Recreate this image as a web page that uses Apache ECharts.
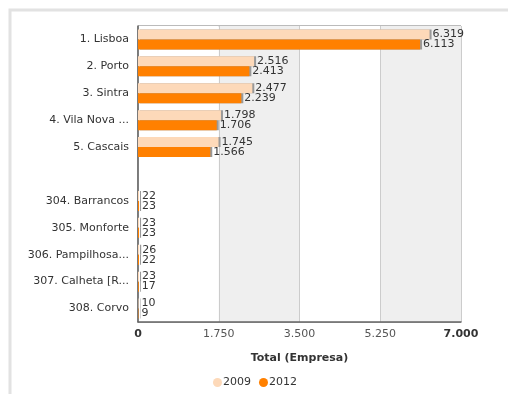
<!DOCTYPE html>
<html>
<head>
<meta charset="utf-8">
<script src="https://cdn.jsdelivr.net/npm/echarts@6/dist/echarts.min.js"></script>
<style>
  html, body { margin: 0; padding: 0; background: #fff; }
  #main { width: 508px; height: 394px; }
</style>
</head>
<body>
<div id="main"></div>
<script>
// municipios (top 5 + bottom 5), empty row between them
var categories = ['1. Lisboa', '2. Porto', '3. Sintra', '4. Vila Nova ...', '5. Cascais', '',
  '304. Barrancos', '305. Monforte', '306. Pampilhosa...', '307. Calheta [R...', '308. Corvo'];
var values2009 = [6319, 2516, 2477, 1798, 1745, '-', 22, 23, 26, 23, 10];
var values2012 = [6113, 2413, 2239, 1706, 1566, '-', 23, 23, 22, 17, 9];
var xTicks = { min: 0, max: 7000, interval: 1750 };

function fmt(v) {
  return String(v).replace(/\B(?=(\d{3})+(?!\d))/g, '.');
}

var font = 'Verdana, "DejaVu Sans", sans-serif';
var myChart = echarts.init(document.getElementById('main'));

function barSeries(name, data, color) {
  return {
    name: name,
    type: 'bar',
    data: data,
    barWidth: 10,
    barGap: '0%',
    itemStyle: {
      color: color,
      shadowColor: '#999',
      shadowOffsetX: 2,
      shadowBlur: 0
    },
    label: {
      show: true,
      position: 'right',
      distance: 3,
      color: '#333',
      fontSize: 11,
      fontFamily: font,
      formatter: function (p) { return fmt(p.value); }
    },
    emphasis: { disabled: true }
  };
}

var option = {
  animation: false,
  textStyle: { fontFamily: font },
  graphic: [{
    type: 'rect',
    shape: { x: 10, y: 10, width: 700, height: 500 },
    style: { fill: 'none', stroke: '#e2e2e2', lineWidth: 3 },
    silent: true
  }],
  grid: {
    left: 138, top: 26, right: 47, bottom: 72,
    show: true, borderColor: '#777', borderWidth: 1
  },
  legend: {
    left: 208, top: 372,
    icon: 'circle', itemWidth: 9, itemHeight: 9, itemGap: 8,
    textStyle: { fontSize: 11, color: '#333', fontFamily: font, padding: [0, 0, 0, -4] },
    data: ['2009', '2012']
  },
  xAxis: {
    type: 'value',
    min: xTicks.min, max: xTicks.max, interval: xTicks.interval,
    name: 'Total (Empresa)',
    nameLocation: 'middle',
    nameGap: 31,
    nameTextStyle: { fontSize: 11, fontWeight: 'bold', color: '#333', fontFamily: font },
    axisLine: { show: true, lineStyle: { color: '#666', width: 1.5 } },
    axisTick: { show: false },
    axisLabel: {
      fontSize: 11, color: '#555', margin: 7, fontFamily: font,
      formatter: function (v) {
        if (v === xTicks.min || v === xTicks.max) return '{b|' + fmt(v) + '}';
        return fmt(v);
      },
      rich: { b: { fontWeight: 'bold', color: '#333', fontSize: 11, fontFamily: font } }
    },
    splitLine: { show: true, lineStyle: { color: '#ccc' } },
    splitArea: { show: true, areaStyle: { color: ['#ffffff', '#efefef'] } }
  },
  yAxis: {
    type: 'category',
    inverse: true,
    data: categories,
    axisLine: { show: true, lineStyle: { color: '#666', width: 1.5 } },
    axisTick: { show: false },
    axisLabel: { fontSize: 11, color: '#333', margin: 9, fontFamily: font }
  },
  series: [
    barSeries('2009', values2009, '#fdd9b9'),
    barSeries('2012', values2012, '#ff8000')
  ]
};

myChart.setOption(option);
</script>
</body>
</html>
